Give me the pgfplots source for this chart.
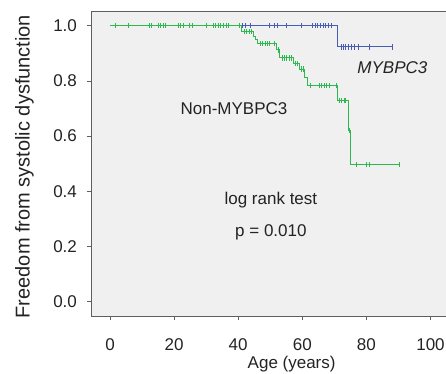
\documentclass[border=0pt]{standalone}
\usepackage{fontspec}
\setmainfont{Liberation Sans}
\usepackage{pgfplots}
\pgfplotsset{compat=1.18}
\definecolor{kmblue}{RGB}{72,92,182}
\definecolor{kmgreen}{RGB}{45,185,80}
\definecolor{bgc}{RGB}{240,240,240}
\definecolor{framec}{RGB}{95,95,95}
\definecolor{txt}{RGB}{35,35,35}
\begin{document}
\begin{tikzpicture}
\begin{axis}[
  x=3.205pt, y=276pt,
  xmin=-5.9, xmax=119, ymin=-0.052, ymax=1.053,
  axis background/.style={fill=bgc},
  axis line style={framec, line width=0.8pt},
  xtick={0,20,40,60,80,100}, ytick={0,0.2,0.4,0.6,0.8,1.0},
  tick align=outside, xtick pos=lower, ytick pos=left,
  major tick length=4pt,
  tick style={framec, line width=0.8pt},
  /pgf/number format/assume math mode=true,
  y tick label style={/pgf/number format/.cd, fixed, fixed zerofill, precision=1, /tikz/.cd},
  ticklabel style={font=\fontsize{17}{20}\selectfont, text=txt, inner sep=0pt},
  xticklabel style={anchor=base, yshift=-30pt},
  yticklabel style={anchor=east, xshift=-10pt},
  every axis x label/.style={at={(axis description cs:0.501,-0.1715)}, anchor=base, font=\fontsize{17}{20}\selectfont, text=txt, inner sep=0pt},
  every axis y label/.style={at={(axis description cs:-0.1537,0.490)}, rotate=90, anchor=base, font=\fontsize{20}{24}\selectfont, text=txt, inner sep=0pt},
  xlabel={Age (years)},
  ylabel={Freedom from systolic dysfunction},
  censor/.style={draw=none, mark=none, error bars/.cd, y dir=both, y fixed=0.0095, error mark=none, error bar style={#1, line width=0.9pt}},
]
% MYBPC3 (blue)
\addplot[color=kmblue, line width=1pt, const plot, mark=none] coordinates {
  (0,1.0) (71.0,0.923) (88.2,0.923)
};
\addplot[censor=kmblue] coordinates {
  (41.3,1) (42.3,1) (43.7,1) (49.9,1) (51.3,1) (52.3,1) (55.1,1) (59.8,1)
  (63.1,1) (64.0,1) (64.8,1) (65.6,1) (66.5,1) (67.3,1) (68.1,1) (69.2,1)
  (72.1,0.923) (72.8,0.923) (73.5,0.923) (74.4,0.923) (75.2,0.923) (76.2,0.923)
  (77.5,0.923) (81.1,0.923) (88.2,0.923)
};
% Non-MYBPC3 (green)
\addplot[color=kmgreen, line width=1pt, const plot, mark=none] coordinates {
  (0,1.0) (41.0,0.979) (44.7,0.962) (45.5,0.950) (46.1,0.935) (52.0,0.912)
  (53.0,0.883) (57.2,0.862) (59.0,0.843) (60.8,0.813) (61.7,0.783)
  (70.9,0.729) (74.4,0.620) (74.9,0.497) (90.5,0.497)
};
\addplot[censor=kmgreen] coordinates {
  (1.6,1) (5.7,1) (12.2,1) (13.0,1) (15.0,1) (15.8,1) (16.6,1) (17.4,1)
  (21.3,1) (22.1,1) (22.9,1) (24.7,1) (25.6,1) (30.2,1) (32.2,1) (33.0,1)
  (33.8,1) (34.5,1) (35.3,1) (36.2,1) (36.9,1) (40.3,1)
  (41.9,0.979) (42.7,0.979) (43.4,0.979) (44.0,0.979)
  (46.8,0.935) (47.5,0.935) (48.4,0.935) (49.1,0.935) (49.9,0.935) (51.3,0.935)
  (52.5,0.912)
  (53.8,0.883) (54.4,0.883) (55.1,0.883) (55.9,0.883) (56.5,0.883)
  (57.9,0.862) (58.6,0.862)
  (59.8,0.843) (60.3,0.843)
  (62.4,0.783) (65.3,0.783) (66.1,0.783) (66.9,0.783) (67.6,0.783) (68.4,0.783) (70.5,0.783)
  (71.5,0.729) (72.3,0.729) (73.0,0.729) (73.6,0.729)
  (74.6,0.620)
  (77.0,0.497) (80.1,0.497) (80.8,0.497) (90.3,0.497)
};
\node[font=\fontsize{17}{20}\selectfont\itshape, text=txt, inner sep=0pt] at (axis cs:88.1,0.849) {MYBPC3};
\node[font=\fontsize{17}{20}\selectfont, text=txt, inner sep=0pt] at (axis cs:38.7,0.70) {Non-MYBPC3};
\node[font=\fontsize{17}{20}\selectfont, text=txt, inner sep=0pt] at (axis cs:50.2,0.368) {log rank test};
\node[font=\fontsize{17}{20}\selectfont, text=txt, inner sep=0pt] at (axis cs:50.2,0.252) {p = 0.010};
\coordinate (o) at (axis cs:0,0);
\end{axis}
\pgfresetboundingbox
\path[use as bounding box] (o) ++(-110pt,-71.3pt) rectangle ++(446pt,373pt);
\end{tikzpicture}
\end{document}
